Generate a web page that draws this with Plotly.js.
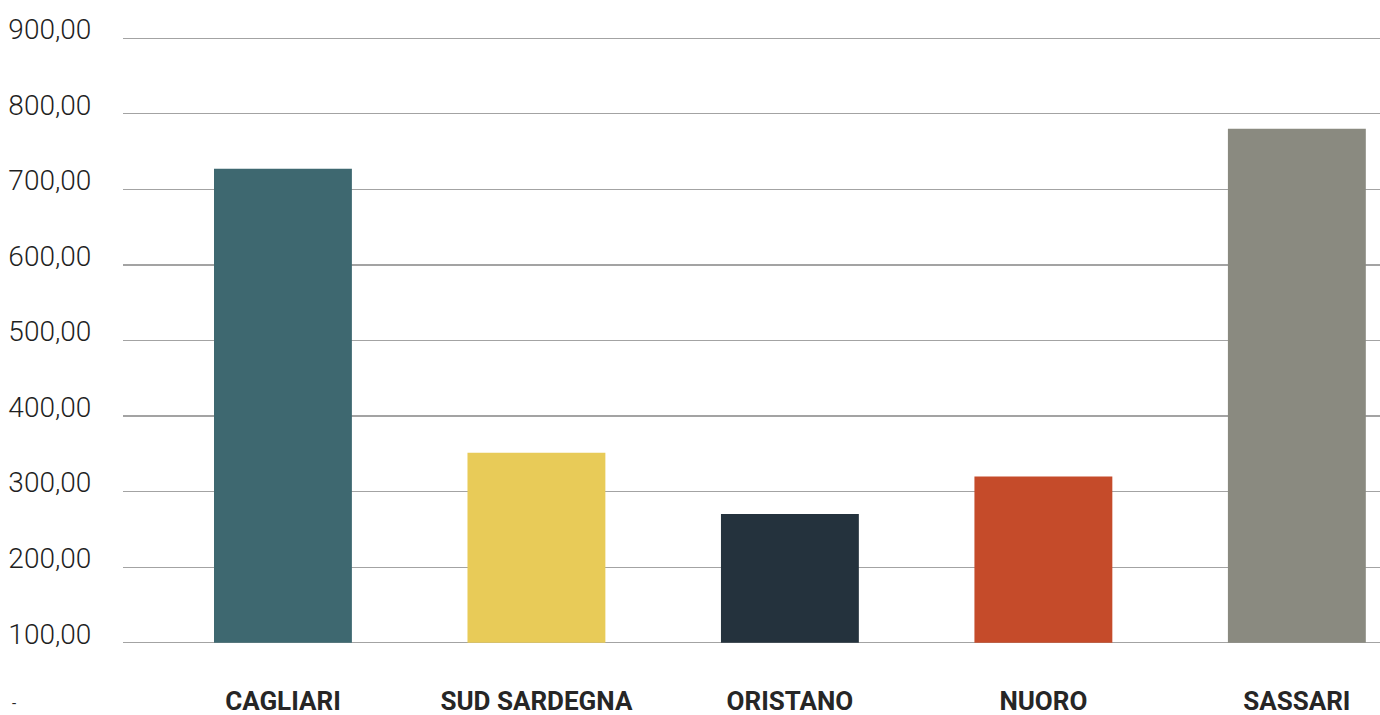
<!DOCTYPE html>
<html>
<head>
<meta charset="utf-8">
<script src="https://cdn.plot.ly/plotly-3.0.1.min.js"></script>
<style>html,body{margin:0;padding:0;background:#fff;}#chart{width:1380px;height:715px;}</style>
</head>
<body>
<div id="chart"></div>
<script>
const categories = ["CAGLIARI", "SUD SARDEGNA", "ORISTANO", "NUORO", "SASSARI"];
const values = [727.4, 351.3, 270.5, 319.9, 780.4];
const barColors = ["#3E6870", "#E8CB58", "#24323D", "#C54B2A", "#8A8A80"];
const yTickVals = [100, 200, 300, 400, 500, 600, 700, 800, 900];
const axisCross = 100; // horizontal axis crosses the value axis at 100
const zeroLabel = "-";  // label of the 0 tick, below the axis

const W = 1380, H = 715;
const mT = 36.43, mB = 70.03, mL = 123, mR = 0;
const plotH = H - mT - mB, plotW = W - mL - mR;

const trace = {
  type: "bar",
  x: categories.map((c, i) => i),
  y: values.map(v => v - axisCross),
  base: axisCross,
  marker: {color: barColors, line: {width: 0}},
  width: 0.544,
  hoverinfo: "none"
};

const FONT = "Roboto, 'Liberation Sans', sans-serif";

const layout = {
  width: W, height: H,
  margin: {l: mL, r: mR, t: mT, b: mB, pad: 0},
  paper_bgcolor: "#fff", plot_bgcolor: "#fff",
  separators: ",.",
  showlegend: false,
  font: {family: FONT, color: "#262626"},
  xaxis: {
    range: [-0.631, 4.328],
    tickvals: categories.map((c, i) => i),
    ticktext: categories,
    showgrid: false, zeroline: false, showline: false,
    ticks: "outside", ticklen: 33, tickcolor: "rgba(0,0,0,0)",
    tickfont: {size: 26, family: FONT, weight: "bold", color: "#262626"}
  },
  yaxis: {
    range: [97, 903],
    tickvals: yTickVals,
    tickformat: ".2f",
    showgrid: true, gridcolor: "#A3A3A3", gridwidth: 1.3,
    zeroline: false, showline: false,
    ticks: "outside", ticklen: 25, tickcolor: "rgba(0,0,0,0)",
    ticklabelshift: -9,
    tickfont: {size: 28, family: FONT, weight: 300, color: "#1f1f1f"}
  },
  annotations: [{
    xref: "paper", yref: "paper", x: (10 - mL) / plotW, y: ((H - mB) - 714) / plotH,
    xanchor: "left", yanchor: "bottom",
    text: zeroLabel, showarrow: false,
    font: {size: 15, family: FONT, color: "#262626"}
  }]
};

Plotly.newPlot("chart", [trace], layout, {staticPlot: true, displayModeBar: false});
</script>
</body>
</html>
